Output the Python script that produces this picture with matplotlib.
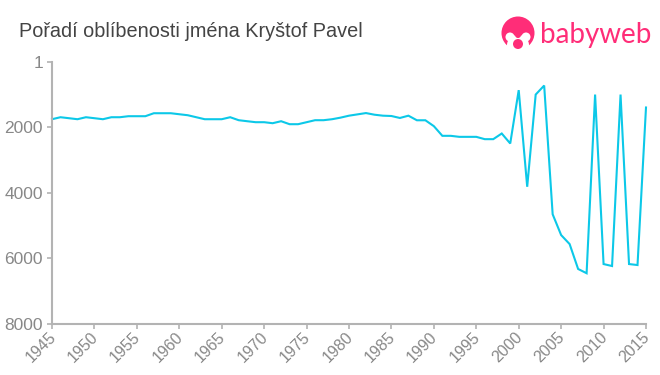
import numpy as np
import matplotlib
matplotlib.use('Agg')
import matplotlib.pyplot as plt
from matplotlib.patches import Circle, Ellipse
from matplotlib.transforms import ScaledTranslation

plt.rcParams['font.family'] = ['Liberation Sans', 'DejaVu Sans']

# data
years = list(range(1945, 2016))
ranks = [1748, 1687, 1717, 1748, 1687, 1717, 1748, 1687, 1687, 1656,
         1656, 1656, 1565, 1565, 1565, 1596, 1626, 1687, 1748, 1748,
         1748, 1687, 1778, 1809, 1839, 1839, 1870, 1809, 1900, 1900,
         1839, 1778, 1778, 1748, 1700, 1640, 1600, 1560, 1610, 1640,
         1650, 1710, 1640, 1780, 1780, 1960, 2255, 2255, 2286, 2286,
         2286, 2357, 2357, 2184, 2489, 860, 3810, 995, 720, 4650,
         5285, 5560, 6320, 6450, 995, 6170, 6230, 995, 6170, 6200, 1390]
x_ticks = list(range(1945, 2016, 5))
y_ticks = [1, 2000, 4000, 6000, 8000]

W, H = 660, 375
fig = plt.figure(figsize=(W / 100, H / 100), dpi=100)
ax = fig.add_axes([52 / W, 1 - 324 / H, (646 - 52) / W, (324 - 62) / H])

ax.plot(years, ranks, color='#0cc8e8', lw=1.5, solid_joinstyle='miter', clip_on=False)
ax.set_xlim(1945, 2015)
ax.set_ylim(8000, 1)
ax.set_xticks(x_ticks)
ax.set_yticks(y_ticks)

for side in ['top', 'right']:
    ax.spines[side].set_visible(False)
for side in ['left', 'bottom']:
    ax.spines[side].set_color('#b3b3b3')
    ax.spines[side].set_linewidth(1.5)
ax.tick_params(axis='both', color='#b3b3b3', width=1.2, length=3.5, pad=2)
ax.tick_params(axis='y', labelsize=12.5, labelcolor='#888888', pad=3)
ax.tick_params(axis='x', labelsize=11.5, labelcolor='#888888')
shift = ScaledTranslation(-4 / 100, 2 / 100, fig.dpi_scale_trans)
for lab in ax.get_xticklabels():
    lab.set_rotation(45)
    lab.set_ha('right')
    lab.set_rotation_mode('anchor')
    lab.set_transform(lab.get_transform() + shift)

fig.text(19 / W, 1 - 37 / H, 'Pořadí oblíbenosti jména Kryštof Pavel',
         fontsize=14.3, color='#444444', ha='left', va='baseline')

# babyweb logo, drawn in pixel coordinates
logo = fig.add_axes([0, 0, 1, 1], facecolor='none')
logo.set_xlim(0, W)
logo.set_ylim(H, 0)
logo.axis('off')
pink = '#ff2d78'
logo.add_patch(Circle((518, 33), 16.5, fc=pink, ec='none'))
logo.add_patch(Ellipse((518, 45), 22, 20, fc='white', ec='none'))
logo.add_patch(Circle((510, 37), 4.5, fc='white', ec='none'))
logo.add_patch(Circle((526, 37), 4.5, fc='white', ec='none'))
logo.add_patch(Circle((518, 35), 3, fc=pink, ec='none'))
logo.add_patch(Circle((518, 44), 5, fc=pink, ec='none'))
logo.text(540, 43, 'babyweb', color=pink, fontsize=20, family=['Lato', 'DejaVu Sans'],
          ha='left', va='baseline')

fig.savefig('out.png', dpi=100)
